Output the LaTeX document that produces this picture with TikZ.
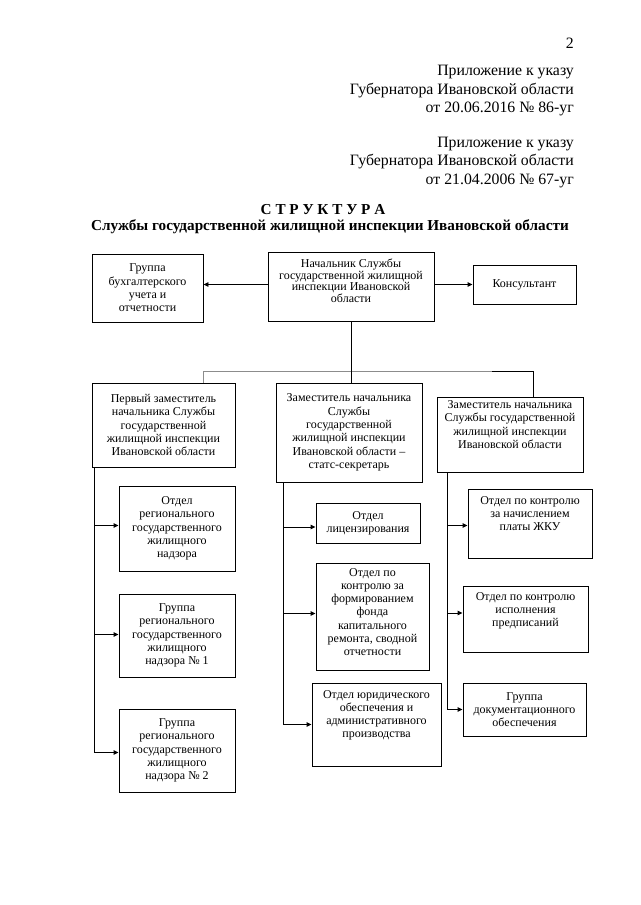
\documentclass[tikz,border=0pt]{standalone}
\usepackage{fontspec}
\setmainfont{Liberation Serif}
\usetikzlibrary{arrows.meta}
\begin{document}
\begin{tikzpicture}[x=1pt,y=-1pt,
 box/.style={draw, line width=0.9pt, align=center, inner sep=0pt, font=\fontsize{12}{13.3}\selectfont},
 arr/.style={line width=0.9pt, -{Triangle[length=5pt,width=4.5pt]}},
 ln/.style={line width=0.9pt},
 busgray/.style={line width=0.9pt, draw=black!45},
 hdr/.style={font=\fontsize{15.8}{18}\selectfont, anchor=mid east, inner sep=0pt},
 ttl/.style={font=\fontsize{15.2}{18}\selectfont\bfseries, anchor=mid, inner sep=0pt}]
\fill[white] (0,0) rectangle (640,905);
\useasboundingbox (0,0) rectangle (640,905);

% header
\node[hdr] (pg) at (574,46) {2};
\node[hdr] (h1) at (574,73) {Приложение к указу};
\node[hdr] (h2) at (574,92) {Губернатора Ивановской области};
\node[hdr] (h3) at (574,110) {от 20.06.2016 № 86-уг};
\node[hdr] (h4) at (574,145) {Приложение к указу};
\node[hdr] (h5) at (574,163) {Губернатора Ивановской области};
\node[hdr] (h6) at (574,182) {от 21.04.2006 № 67-уг};
\node[ttl] (t1) at (323,212) {С Т Р У К Т У Р А};
\node[ttl] (t2) at (330,228) {Службы государственной жилищной инспекции Ивановской области};

% top row
\node[box, minimum width=111pt, minimum height=68pt] (buh) at (147.5,288) {Группа\\бухгалтерского\\учета и\\отчетности};
\node[box, minimum width=166pt, minimum height=69pt, text depth=12pt, font=\fontsize{12}{11.6}\selectfont] (head) at (351,286.5) {Начальник Службы\\государственной жилищной\\инспекции Ивановской\\области};
\node[box, minimum width=103pt, minimum height=39pt] (kons) at (524.5,284.5) {Консультант};

% deputies
\node[box, minimum width=143pt, minimum height=84pt] (dep1) at (163.5,425) {Первый заместитель\\начальника Службы\\государственной\\жилищной инспекции\\Ивановской области};
\node[box, minimum width=146pt, minimum height=99pt] (dep2) at (349,432.5) {Заместитель начальника\\Службы\\государственной\\жилищной инспекции\\Ивановской области –\\статс-секретарь};
\node[box, minimum width=146pt, minimum height=75pt, text depth=20pt] (dep3) at (510,434.5) {Заместитель начальника\\Службы государственной\\жилищной инспекции\\Ивановской области};

% left column
\node[box, minimum width=116pt, minimum height=85pt] (a1) at (177,528.5) {Отдел\\регионального\\государственного\\жилищного\\надзора};
\node[box, minimum width=116pt, minimum height=83pt] (a2) at (177,635.5) {Группа\\регионального\\государственного\\жилищного\\надзора № 1};
\node[box, minimum width=116pt, minimum height=83pt] (a3) at (177,750.5) {Группа\\регионального\\государственного\\жилищного\\надзора № 2};

% centre column
\node[box, minimum width=104pt, minimum height=40pt] (b1) at (368,523) {Отдел\\лицензирования};
\node[box, minimum width=113pt, minimum height=107pt, text depth=9pt] (b2) at (372.5,616.5) {Отдел по\\контролю за\\формированием\\фонда\\капитального\\ремонта, сводной\\отчетности};
\node[box, minimum width=129pt, minimum height=83pt, text depth=21pt] (b3) at (376.5,724.5) {Отдел юридического\\обеспечения и\\административного\\производства};

% right column
\node[box, minimum width=124pt, minimum height=69pt, text depth=20pt] (c1) at (530,523.5) {Отдел по контролю\\за начислением\\платы ЖКУ};
\node[box, minimum width=125pt, minimum height=66pt, text depth=19pt] (c2) at (525.5,619) {Отдел по контролю\\исполнения\\предписаний};
\node[box, minimum width=123pt, minimum height=53pt] (c3) at (524.5,709.5) {Группа\\документационного\\обеспечения};

% top connectors
\draw[arr] (head.west |- kons.west) -- (buh.east |- kons.west);
\draw[arr] (head.east |- kons.west) -- (kons.west);

% bus
\coordinate (busL) at (203,371);
\coordinate (busG) at (492,371);
\coordinate (busR) at (533,371);
\draw[busgray] (busL |- dep1.north) -- (busL) -- (busG);
\draw[ln] (busG) -- (busR) -- (busR |- dep3.north);
\draw[ln] (head.south) -- (head.south |- dep2.north);

% spines
\coordinate (s1) at (94,0);
\coordinate (s2) at (283,0);
\coordinate (s3) at (447,0);
\draw[arr] (dep1.south -| s1) -- ([yshift=-2pt]a3.west -| s1) -- ([yshift=-2pt]a3.west);
\draw[arr] ([yshift=3pt]a1.west -| s1) -- ([yshift=3pt]a1.west);
\draw[arr] ([yshift=1pt]a2.west -| s1) -- ([yshift=1pt]a2.west);

\draw[arr] (dep2.south -| s2) -- (b3.west -| s2) -- (b3.west);
\draw[arr] ([yshift=-4pt]b1.west -| s2) -- ([yshift=-4pt]b1.west);
\draw[arr] ([yshift=3pt]b2.west -| s2) -- ([yshift=3pt]b2.west);

\draw[arr] (dep3.south -| s3) -- (c3.west -| s3) -- (c3.west);
\draw[arr] ([yshift=-2pt]c1.west -| s3) -- ([yshift=-2pt]c1.west);
\draw[arr] ([yshift=6pt]c2.west -| s3) -- ([yshift=6pt]c2.west);
\end{tikzpicture}
\end{document}
